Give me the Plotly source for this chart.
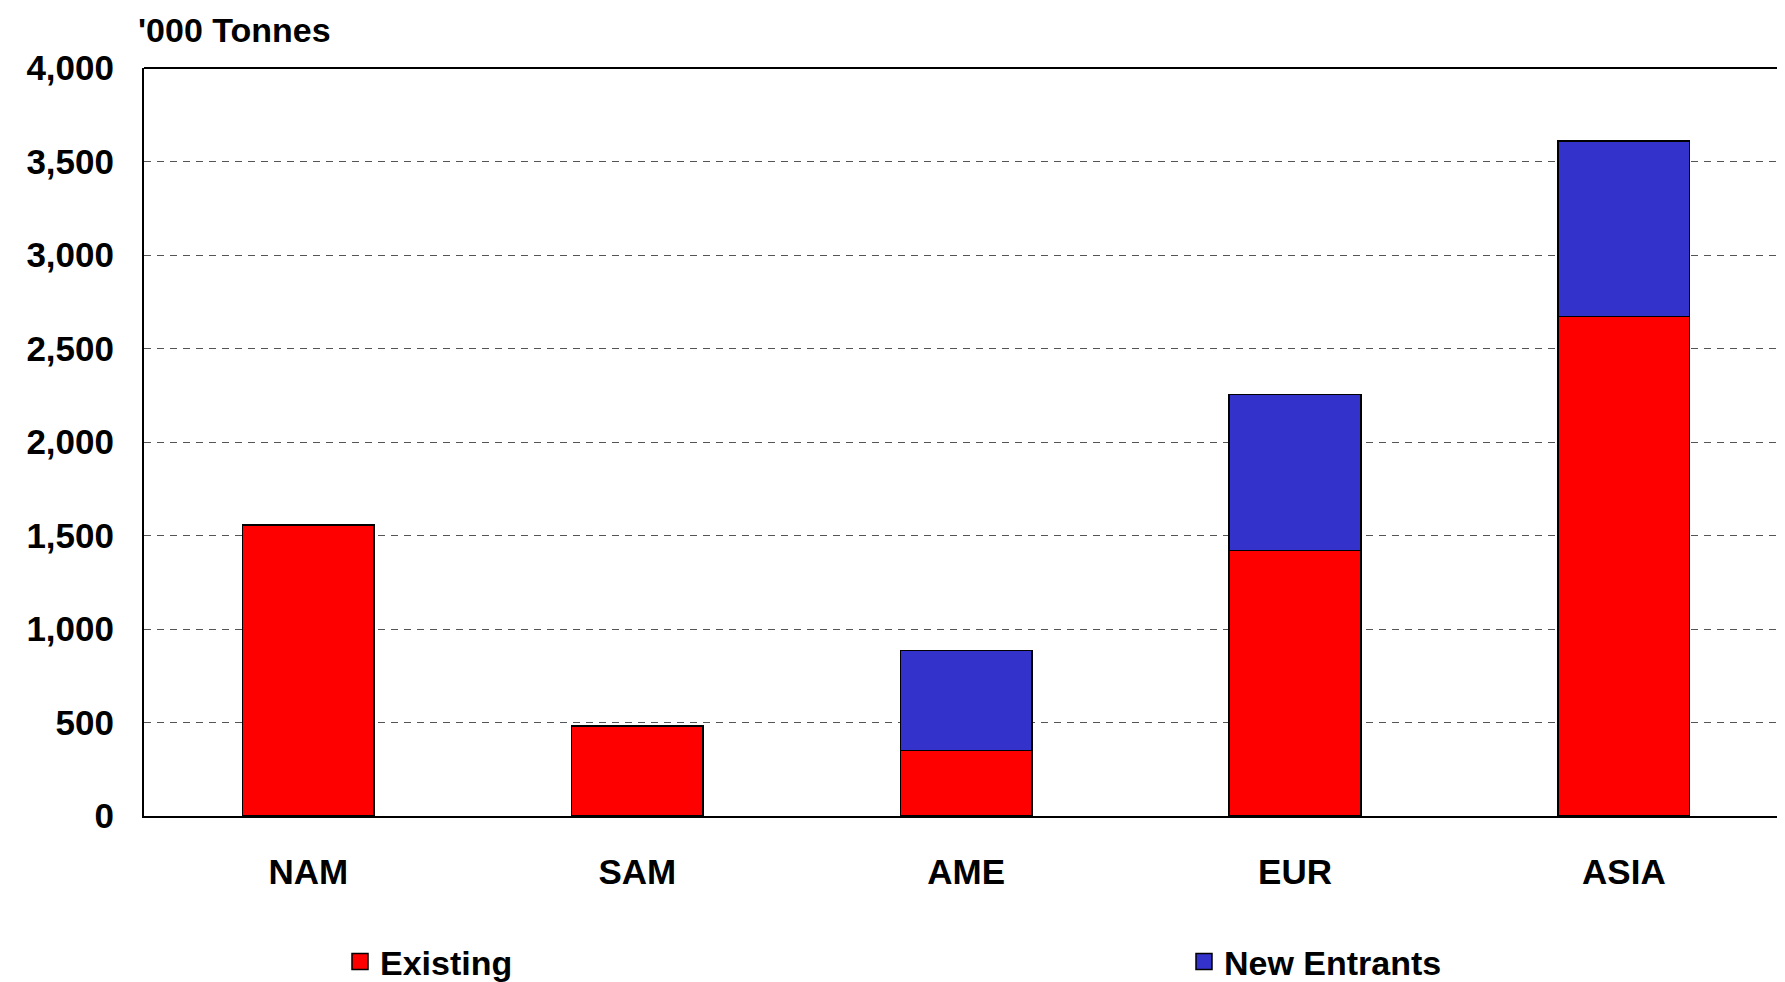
import plotly.graph_objects as go

categories = ["NAM", "SAM", "AME", "EUR", "ASIA"]
existing = [1555, 480, 350, 1420, 2670]
new_entrants = [0, 0, 535, 833, 940]
y_ticks = [0, 500, 1000, 1500, 2000, 2500, 3000, 3500, 4000]

FONT = "Liberation Sans, Arial, sans-serif"
RED = "#FF0000"
BLUE = "#3333CC"

# page body has an 8px margin, so the figure is sized to fit the window
W, H = 1777, 974

fig = go.Figure()
fig.add_trace(go.Bar(
    x=categories, y=existing, name="Existing", showlegend=False,
    marker=dict(color=RED, line=dict(color="#000000", width=1.5)),
    width=0.4,
))
fig.add_trace(go.Bar(
    x=categories, y=new_entrants, name="New Entrants", showlegend=False,
    marker=dict(color=BLUE, line=dict(color="#000000", width=1.5)),
    width=0.4,
))
# legend entries
fig.add_trace(go.Scatter(
    x=[None], y=[None], mode="markers", name="Existing", legend="legend",
    marker=dict(symbol="square", size=22, color=RED, line=dict(color="black", width=1.5)),
))
fig.add_trace(go.Scatter(
    x=[None], y=[None], mode="markers", name="New Entrants", legend="legend2",
    marker=dict(symbol="square", size=22, color=BLUE, line=dict(color="black", width=1.5)),
))

legend_common = dict(
    orientation="h", xref="container", yref="container",
    xanchor="left", y=1 - 954 / H, yanchor="middle",
    font=dict(family=FONT, size=34, color="black", weight="bold"),
    itemclick=False, itemsizing="trace", bgcolor="rgba(0,0,0,0)",
)

fig.update_layout(
    barmode="stack",
    width=W, height=H,
    margin=dict(l=136, r=0, t=60, b=166),
    paper_bgcolor="white", plot_bgcolor="white",
    font=dict(family=FONT, color="black", size=34),
    showlegend=True,
    legend=dict(x=332 / W, **legend_common),
    legend2=dict(x=1176 / W, **legend_common),
    xaxis=dict(
        range=[-0.5, 4.49], showline=True, linecolor="black", linewidth=2,
        showgrid=False, ticks="", ticklabelstandoff=24, automargin=False,
        tickfont=dict(family=FONT, size=35, color="black", weight="bold"),
    ),
    yaxis=dict(
        range=[0, 4000], tickvals=y_ticks, tickformat=",",
        showline=True, linecolor="black", linewidth=2,
        showgrid=True, gridcolor="#555555", gridwidth=1, griddash="7px,6px",
        zeroline=False, ticks="", ticklabelstandoff=21, automargin=False,
        tickfont=dict(family=FONT, size=35, color="black", weight="bold"),
    ),
)

fig.add_shape(type="line", xref="paper", yref="paper", x0=0, x1=1, y0=1, y1=1,
              line=dict(color="black", width=2))

fig.add_annotation(
    text="'000 Tonnes", xref="paper", yref="paper", x=-0.004, y=1,
    xanchor="left", yanchor="bottom", yshift=18, showarrow=False,
    borderpad=0,
    font=dict(family=FONT, size=34, color="black", weight="bold"),
)

fig.write_html("out.html")
